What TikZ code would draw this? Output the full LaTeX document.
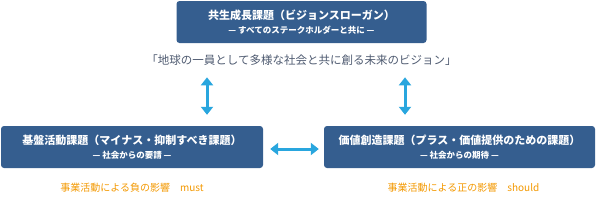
\documentclass[tikz,border=0pt]{standalone}
\usepackage{fontspec}
\setmainfont{Noto Sans CJK JP}
\usetikzlibrary{arrows.meta, positioning, calc}
\definecolor{taskblue}{RGB}{53,94,143}
\definecolor{linkcyan}{RGB}{41,166,222}
\definecolor{impactorange}{RGB}{243,152,0}
\definecolor{visiongray}{RGB}{78,90,112}

\begin{document}
\begin{tikzpicture}[x=1pt, y=1pt,
    task/.style={rectangle, rounded corners=3pt, fill=taskblue, text=white, minimum height=42pt, align=center, inner sep=0pt},
    vision/.style={text=visiongray, font=\fontsize{11.5}{13}\selectfont, inner sep=1pt},
    impact/.style={text=impactorange, font=\fontsize{10}{12}\selectfont, inner sep=1pt},
    both/.style={{Triangle[width=12pt,length=8pt]}-{Triangle[width=12pt,length=8pt]}, line width=3pt, color=linkcyan}
]
\useasboundingbox (0,0) rectangle (601,-207);
\node[task, minimum width=250pt] (symbiosis) at (301.5,-22)
    {{\fontsize{11}{14}\selectfont\bfseries 共生成長課題（ビジョンスローガン）}\\[2pt]{\fontsize{8.5}{10}\selectfont\bfseries — すべてのステークホルダーと共に —}};
\node[vision, below=10pt of symbiosis] (vision) {「地球の一員として多様な社会と共に創る未来のビジョン」};
\node[task, minimum width=262pt] (kiban) at (132,-147)
    {{\fontsize{11}{14}\selectfont\bfseries 基盤活動課題（マイナス・抑制すべき課題）}\\[2pt]{\fontsize{8.5}{10}\selectfont\bfseries — 社会からの要請 —}};
\node[task, minimum width=271pt] (kachi) at (459.5,-147)
    {{\fontsize{11}{14}\selectfont\bfseries 価値創造課題（プラス・価値提供のための課題）}\\[2pt]{\fontsize{8.5}{10}\selectfont\bfseries — 社会からの期待 —}};
\node[impact, below=14pt of kiban] (minus) {事業活動による負の影響\quad must};
\node[impact, below=14pt of kachi, xshift=4pt] (plus) {事業活動による正の影響\quad should};
% arrows
\coordinate (lcol) at (207,0);
\coordinate (rcol) at (405,0);
\draw[both, shorten <=11pt, shorten >=11pt] (vision.south -| lcol) -- (kiban.north -| lcol);
\draw[both, shorten <=11pt, shorten >=11pt] (vision.south -| rcol) -- (kachi.north -| rcol);
\draw[both, shorten <=7pt, shorten >=5pt] ($(kiban.east)+(0,-2)$) -- ($(kachi.west)+(0,-2)$);
\end{tikzpicture}
\end{document}
